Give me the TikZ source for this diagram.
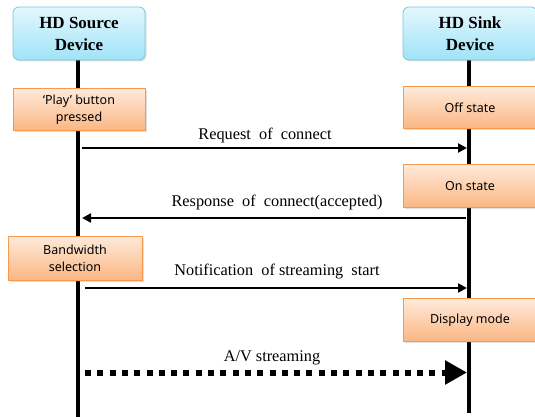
\documentclass[tikz,border=0pt]{standalone}
\usepackage{fontspec}
\setmainfont{Liberation Serif}
\newfontfamily\boxfont{Noto Sans}
\usetikzlibrary{arrows.meta,shadows}
\definecolor{hdtop}{HTML}{E4F7FC}
\definecolor{hdbot}{HTML}{A0E3F8}
\definecolor{hdline}{HTML}{7DC6DA}
\definecolor{sttop}{HTML}{FEEADB}
\definecolor{stbot}{HTML}{FBB682}
\definecolor{stline}{HTML}{F59A4E}
\tikzset{
  device/.style={draw=hdline, line width=0.8pt, rounded corners=6pt,
    top color=hdtop, bottom color=hdbot, align=center,
    minimum width=132pt, minimum height=53pt, inner sep=0pt,
    font=\fontsize{17}{22}\selectfont\bfseries,
    drop shadow={shadow xshift=1.5pt, shadow yshift=-1.5pt, opacity=0.25}},
  state/.style={draw=stline, line width=0.8pt,
    top color=sttop, bottom color=stbot, align=center,
    minimum width=132pt, minimum height=42pt, inner sep=0pt,
    font=\boxfont\fontsize{12.5}{17}\selectfont,
    drop shadow={shadow xshift=1.5pt, shadow yshift=-1.5pt, opacity=0.25}},
  lifeline/.style={line width=3.5pt, black},
  msg/.style={line width=2.6pt, -{Triangle[length=9pt,width=9pt]}},
  stream/.style={line width=6pt, dash pattern=on 6pt off 6.3pt,
    -{Triangle[length=22pt,width=23pt]}},
  msglabel/.style={font=\fontsize{16.3}{19}\selectfont, inner sep=0pt},
}
\begin{document}
\begin{tikzpicture}[x=1pt,y=-1pt]
\useasboundingbox (0,0) rectangle (535,417);
\clip (0,0) rectangle (535,417);

% lifelines
\coordinate (srcTop) at (78,60);
\coordinate (srcBot) at (78,417);
\coordinate (snkTop) at (469,60);
\coordinate (snkBot) at (469,413);
\draw[lifeline] (srcTop) -- (srcBot);
\draw[lifeline] (snkTop) -- (snkBot);

% devices
\node[device] (src) at (79,33.5) {HD Source\\Device};
\node[device, minimum width=134pt] (snk) at (470,33.5) {HD Sink\\Device};

% state boxes
\node[state] (play) at (79,109.5) {‘Play’ button\\pressed};
\node[state, minimum width=134pt] (off) at (470,107.5) {Off state};
\node[state, minimum width=134pt, minimum height=43pt] (on) at (470,186) {On state};
\node[state, minimum width=134pt, minimum height=44pt] (bw) at (75,258) {Bandwidth\\selection};
\node[state, minimum width=134pt, minimum height=43pt] (disp) at (470,320) {Display mode};

% message end points on the lifelines
\coordinate (reqA) at (82,148);
\coordinate (reqB) at (467,148);
\coordinate (resA) at (466,218);
\coordinate (resB) at (82,218);
\coordinate (notA) at (85,288);
\coordinate (notB) at (467,288);
\coordinate (avA) at (85,372.5);
\coordinate (avB) at (467,372.5);

\draw[msg] (reqA) -- (reqB);
\draw[msg] (resA) -- (resB);
\draw[msg] (notA) -- (notB);
\draw[stream] (avA) -- (avB);

\node[msglabel] (reqL) at (265,135) {Request\ \ of\ \ connect};
\node[msglabel] (resL) at (277,202) {Response\ \ of\ \ connect(accepted)};
\node[msglabel] (notL) at (277,272) {Notification\ \ of\ streaming\ \ start};
\node[msglabel] (avL) at (272,358) {A/V streaming};
\end{tikzpicture}
\end{document}
